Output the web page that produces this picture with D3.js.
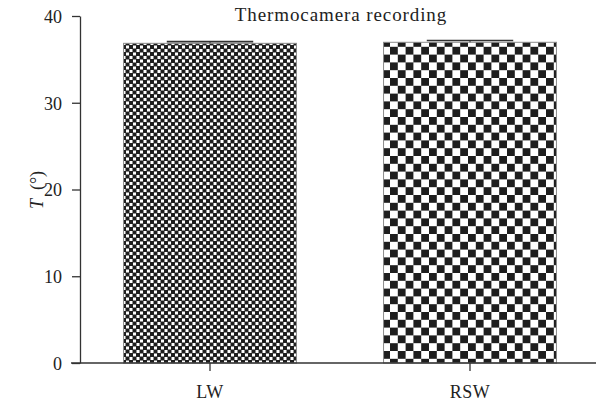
<!DOCTYPE html>
<html>
<head>
<meta charset="utf-8">
<script src="https://cdn.jsdelivr.net/npm/d3@7"></script>
<style>
  html, body { margin: 0; padding: 0; background: #fff; }
  svg { display: block; }
  text { font-family: "Liberation Serif", "DejaVu Serif", serif; fill: #222; }
</style>
</head>
<body>
<script>
// Mean skin temperature from the thermocamera, with error (SEM)
const categories = ["LW", "RSW"];
const means = [36.85, 36.97];
const errors = [0.2, 0.2];
const yTicks = [0, 10, 20, 30, 40];
const title = "Thermocamera recording";

const W = 596, H = 406;
const svg = d3.select("body").append("svg").attr("width", W).attr("height", H);

const x = d3.scaleBand().domain(categories).range([80, 600])
  .paddingInner(0.335).paddingOuter(0.1675);
const y = d3.scaleLinear().domain([0, 40]).range([363, 16]);

// checkerboard fills: fine for LW, coarse for RSW
const defs = svg.append("defs");
function checker(id, cell, white) {
  const p = defs.append("pattern").attr("id", id).attr("patternUnits", "userSpaceOnUse")
    .attr("width", cell * 2).attr("height", cell * 2);
  p.append("rect").attr("width", cell * 2).attr("height", cell * 2).attr("fill", "#1e1e1e");
  p.append("rect").attr("x", cell).attr("width", white).attr("height", white).attr("fill", "#fff");
  p.append("rect").attr("y", cell).attr("width", white).attr("height", white).attr("fill", "#fff");
}
checker("pLW", 3.5, 3.0);
checker("pRSW", 7.8, 7.8);
const fills = { LW: "url(#pLW)", RSW: "url(#pRSW)" };

const data = categories.map((c, i) => ({ c, v: means[i], e: errors[i] }));

// bars
svg.selectAll("rect.bar").data(data).enter().append("rect")
  .attr("class", "bar")
  .attr("x", d => x(d.c))
  .attr("y", d => y(d.v))
  .attr("width", x.bandwidth())
  .attr("height", d => y(0) - y(d.v))
  .attr("fill", d => fills[d.c])
  .attr("stroke", "#8a8a8a")
  .attr("stroke-width", 1);

// upper error bars
const eb = svg.selectAll("g.err").data(data).enter().append("g").attr("class", "err");
eb.append("line")
  .attr("x1", d => x(d.c) + x.bandwidth() / 2).attr("x2", d => x(d.c) + x.bandwidth() / 2)
  .attr("y1", d => y(d.v)).attr("y2", d => y(d.v + d.e))
  .attr("stroke", "#333").attr("stroke-width", 1);
eb.append("line")
  .attr("x1", d => x(d.c) + x.bandwidth() / 4).attr("x2", d => x(d.c) + x.bandwidth() * 3 / 4)
  .attr("y1", d => y(d.v + d.e)).attr("y2", d => y(d.v + d.e))
  .attr("stroke", "#333").attr("stroke-width", 1.6);

// y axis
const yAxis = svg.append("g").attr("transform", "translate(80,0)")
  .call(d3.axisLeft(y).tickValues(yTicks).tickSize(8).tickPadding(10).tickSizeOuter(0));
yAxis.select(".domain").attr("stroke", "#333").attr("stroke-width", 1.3);
yAxis.selectAll(".tick line").attr("stroke", "#333").attr("stroke-width", 1.3);
yAxis.selectAll(".tick text").attr("font-size", 18).style("font-family", "Liberation Serif, serif")
  .attr("fill", "#222").attr("dy", "0.36em");

// x axis
const xAxis = svg.append("g").attr("transform", "translate(0,363)")
  .call(d3.axisBottom(x).tickSize(8).tickPadding(14).tickSizeOuter(0));
xAxis.select(".domain").attr("d", "M71,0H596").attr("stroke", "#333").attr("stroke-width", 1.3);
xAxis.selectAll(".tick line").attr("stroke", "#333").attr("stroke-width", 1.3);
xAxis.selectAll(".tick text").attr("font-size", 18).style("font-family", "Liberation Serif, serif")
  .attr("fill", "#222").style("letter-spacing", "0.5px");

// title
svg.append("text").attr("x", 341).attr("y", 21).attr("text-anchor", "middle")
  .attr("font-size", 19).style("letter-spacing", "0.9px").text(title);

// y label
const yl = svg.append("text").attr("transform", "translate(43,190) rotate(-90)")
  .attr("text-anchor", "middle").attr("font-size", 18);
yl.append("tspan").attr("font-style", "italic").text("T");
yl.append("tspan").attr("dx", 9).text("(°)");
</script>
</body>
</html>
